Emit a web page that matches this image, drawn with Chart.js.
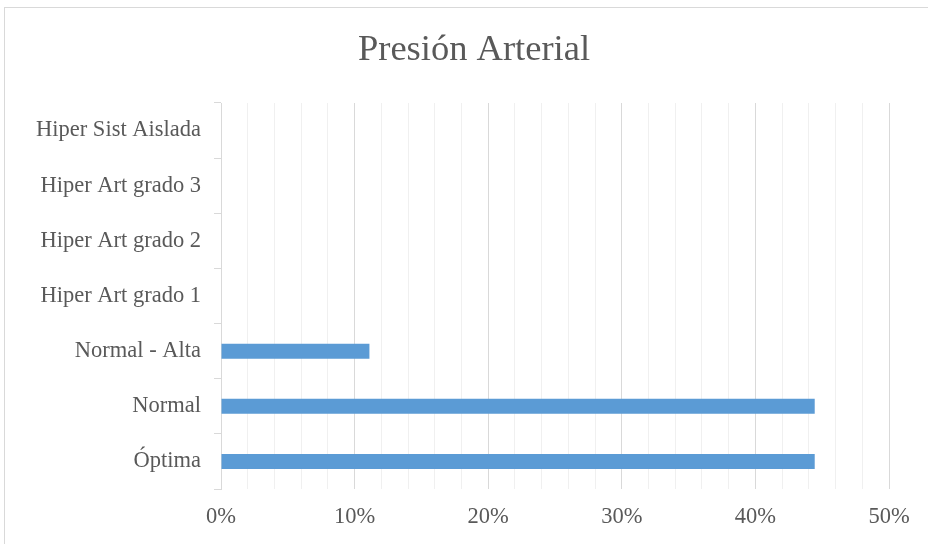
<!DOCTYPE html>
<html>
<head>
<meta charset="utf-8">
<script src="https://cdn.jsdelivr.net/npm/chart.js@4/dist/chart.umd.min.js"></script>
<style>
  html, body { margin: 0; padding: 0; background: #fff; overflow: hidden; }
  #wrap { position: relative; width: 928px; height: 544px; }
  #frame { position: absolute; left: 4px; top: 7px; width: 940px; height: 560px;
           border: 1px solid #d9d9d9; pointer-events: none; }
</style>
</head>
<body>
<div id="wrap">
  <canvas id="chartPA" width="928" height="544"></canvas>
  <div id="frame"></div>
</div>
<script>
const categories = ['Hiper Sist Aislada', 'Hiper Art grado 3', 'Hiper Art grado 2',
                    'Hiper Art grado 1', 'Normal - Alta', 'Normal', 'Óptima'];
const percentages = [0, 0, 0, 0, 11.11, 44.44, 44.44];
const xMax = 50;
const xStep = 2;

const FONT = "'Liberation Serif', serif";
const TXT = '#595959';

Chart.defaults.font.family = FONT;

new Chart(document.getElementById('chartPA'), {
  type: 'bar',
  data: {
    labels: categories,
    datasets: [{
      data: percentages,
      backgroundColor: '#5b9bd5',
      borderWidth: 0,
      categoryPercentage: 1,
      barPercentage: 0.272,
    }],
  },
  options: {
    indexAxis: 'y',
    responsive: false,
    animation: false,
    layout: { padding: { left: 20, right: 0, top: 0, bottom: 0 } },
    plugins: {
      legend: { display: false },
      tooltip: { enabled: false },
      title: {
        display: true,
        text: 'Presión Arterial',
        color: TXT,
        font: { family: FONT, size: 36.5, weight: 'normal', lineHeight: 1.2 },
        padding: { top: 29, bottom: 30.2 },
      },
    },
    scales: {
      x: {
        min: 0,
        max: xMax,
        border: { display: false },
        ticks: {
          stepSize: xStep,
          autoSkip: false,
          maxRotation: 0,
          padding: 15,
          color: TXT,
          font: { family: FONT, size: 22.5 },
          callback: v => (v % 10 === 0 ? v + '%' : ''),
        },
        grid: {
          drawTicks: false,
          color: ctx => (ctx.tick && ctx.tick.value % 10 === 0 ? '#d9d9d9' : '#f0f0f0'),
          lineWidth: 1,
        },
        afterFit: s => { s.height = 55; },
      },
      y: {
        border: { display: true, color: '#d9d9d9' },
        grid: {
          drawOnChartArea: false,
          drawTicks: true,
          tickLength: 7,
          color: '#d9d9d9',
          offset: true,
        },
        ticks: {
          padding: 13,
          color: TXT,
          font: { family: FONT, size: 22.5 },
        },
        afterFit: s => { s.width = 201; },
      },
      // empty right margin so the plot stops short of the frame
      yRight: {
        type: 'linear',
        axis: 'y',
        position: 'right',
        border: { display: false },
        grid: { display: false },
        ticks: { display: false },
        afterFit: s => { s.width = 39; },
      },
    },
  },
});
</script>
</body>
</html>
